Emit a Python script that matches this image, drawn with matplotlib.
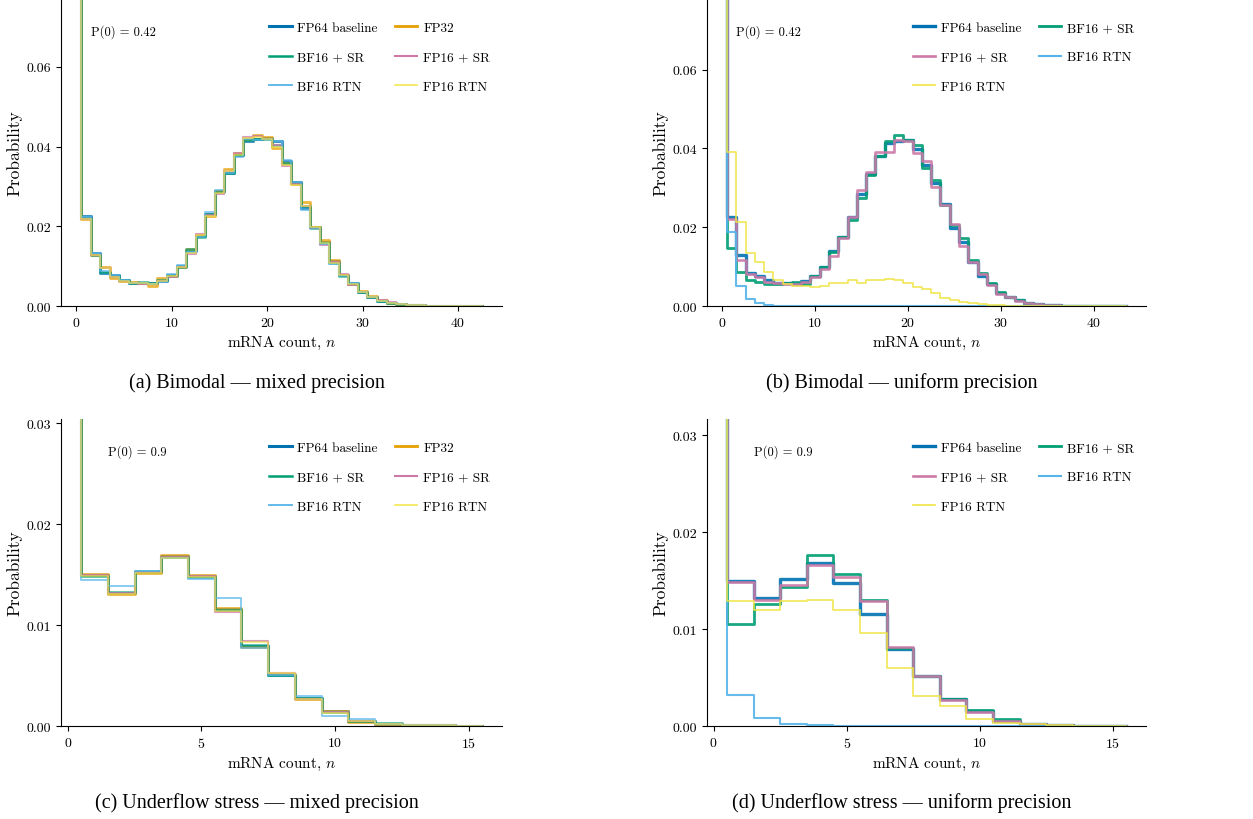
import numpy as np
import matplotlib.pyplot as plt
import matplotlib.transforms as mtransforms
from matplotlib.ticker import MultipleLocator

plt.rcParams['font.family'] = 'serif'
plt.rcParams['font.serif'] = ['cmr10']
plt.rcParams['mathtext.fontset'] = 'cm'
plt.rcParams['axes.formatter.use_mathtext'] = True
plt.rcParams['axes.unicode_minus'] = False

# ---- data: P(n) for n = 0, 1, 2, ... ----
# (a) bimodal, mixed precision (n = 0..42)
bim_mix_fp64 = [0.42, 0.0226, 0.0133, 0.0083, 0.0078, 0.0065, 0.0058, 0.0058, 0.0057, 0.0062,
                0.0078, 0.0100, 0.0137, 0.0175, 0.0232, 0.0289, 0.0334, 0.0378, 0.0415, 0.0418,
                0.0422, 0.0413, 0.0365, 0.0312, 0.0245, 0.0198, 0.0160, 0.0112, 0.0077, 0.0057,
                0.0035, 0.0023, 0.0013, 0.0008, 0.0005, 0.0003, 0.0002, 0.0001, 0.0001, 0.0001,
                0.0, 0.0, 0.0]
bim_mix_fp32 = [0.42, 0.0219, 0.0128, 0.0097, 0.0070, 0.0063, 0.0059, 0.0057, 0.0051, 0.0070,
                0.0076, 0.0098, 0.0142, 0.0178, 0.0226, 0.0288, 0.0344, 0.0383, 0.0420, 0.0428,
                0.0425, 0.0396, 0.0358, 0.0306, 0.0260, 0.0199, 0.0165, 0.0115, 0.0078, 0.0054,
                0.0037, 0.0025, 0.0014, 0.0008, 0.0005, 0.0003, 0.0002, 0.0001, 0.0001, 0.0,
                0.0, 0.0, 0.0]
bim_mix_bf16_sr = [0.42, 0.0222, 0.0129, 0.0086, 0.0075, 0.0064, 0.0058, 0.0059, 0.0058, 0.0065,
                   0.0075, 0.0098, 0.0142, 0.0174, 0.0230, 0.0285, 0.0333, 0.0380, 0.0417, 0.0420,
                   0.0420, 0.0405, 0.0360, 0.0308, 0.0250, 0.0196, 0.0158, 0.0108, 0.0076, 0.0055,
                   0.0034, 0.0022, 0.0012, 0.0007, 0.0005, 0.0003, 0.0002, 0.0001, 0.0001, 0.0001,
                   0.0, 0.0, 0.0]
bim_mix_fp16_sr = [0.42, 0.0218, 0.0127, 0.0095, 0.0072, 0.0062, 0.0058, 0.0056, 0.0054, 0.0063,
                   0.0074, 0.0097, 0.0130, 0.0180, 0.0228, 0.0280, 0.0340, 0.0383, 0.0423, 0.0426,
                   0.0418, 0.0403, 0.0352, 0.0305, 0.0250, 0.0195, 0.0153, 0.0110, 0.0080, 0.0053,
                   0.0035, 0.0022, 0.0015, 0.0009, 0.0006, 0.0003, 0.0002, 0.0001, 0.0001, 0.0,
                   0.0, 0.0, 0.0]
bim_mix_bf16_rtn = [0.42, 0.0224, 0.0134, 0.0087, 0.0079, 0.0066, 0.0057, 0.0058, 0.0056, 0.0060,
                    0.0080, 0.0103, 0.0135, 0.0173, 0.0235, 0.0290, 0.0333, 0.0375, 0.0418, 0.0417,
                    0.0420, 0.0413, 0.0366, 0.0312, 0.0242, 0.0195, 0.0155, 0.0105, 0.0075, 0.0058,
                    0.0036, 0.0022, 0.0012, 0.0007, 0.0005, 0.0003, 0.0002, 0.0001, 0.0001, 0.0001,
                    0.0, 0.0, 0.0]
bim_mix_fp16_rtn = [0.42, 0.0218, 0.0128, 0.0095, 0.0072, 0.0063, 0.0057, 0.0057, 0.0055, 0.0062,
                    0.0076, 0.0099, 0.0132, 0.0178, 0.0225, 0.0283, 0.0338, 0.0380, 0.0422, 0.0424,
                    0.0420, 0.0400, 0.0355, 0.0303, 0.0252, 0.0197, 0.0157, 0.0108, 0.0078, 0.0054,
                    0.0034, 0.0023, 0.0013, 0.0008, 0.0005, 0.0003, 0.0002, 0.0001, 0.0001, 0.0,
                    0.0, 0.0, 0.0]

# (b) bimodal, uniform precision (n = 0..43)
bim_uni_fp64 = [0.42, 0.0226, 0.0129, 0.0085, 0.0077, 0.0065, 0.0058, 0.0058, 0.0057, 0.0064,
                0.0076, 0.0100, 0.0140, 0.0175, 0.0225, 0.0285, 0.0334, 0.0380, 0.0415, 0.0420,
                0.0422, 0.0398, 0.0358, 0.0312, 0.0258, 0.0198, 0.0162, 0.0112, 0.0077, 0.0056,
                0.0034, 0.0023, 0.0014, 0.0008, 0.0005, 0.0003, 0.0002, 0.0001, 0.0001, 0.0001,
                0.0, 0.0, 0.0, 0.0]
bim_uni_bf16_sr = [0.42, 0.0146, 0.0086, 0.0065, 0.0060, 0.0055, 0.0055, 0.0059, 0.0060, 0.0056,
                   0.0075, 0.0098, 0.0138, 0.0175, 0.0218, 0.0273, 0.0333, 0.0380, 0.0418, 0.0433,
                   0.0422, 0.0408, 0.0350, 0.0320, 0.0256, 0.0205, 0.0173, 0.0116, 0.0084, 0.0058,
                   0.0035, 0.0024, 0.0015, 0.0008, 0.0005, 0.0003, 0.0002, 0.0001, 0.0001, 0.0001,
                   0.0, 0.0, 0.0, 0.0]
bim_uni_fp16_sr = [0.42, 0.0220, 0.0116, 0.0082, 0.0073, 0.0060, 0.0058, 0.0056, 0.0056, 0.0062,
                   0.0074, 0.0095, 0.0128, 0.0173, 0.0225, 0.0295, 0.0341, 0.0392, 0.0392, 0.0422,
                   0.0418, 0.0388, 0.0367, 0.0303, 0.0256, 0.0209, 0.0152, 0.0111, 0.0082, 0.0054,
                   0.0031, 0.0022, 0.0013, 0.0007, 0.0005, 0.0003, 0.0002, 0.0001, 0.0001, 0.0,
                   0.0, 0.0, 0.0, 0.0]
bim_uni_bf16_rtn = [0.97, 0.0188, 0.0050, 0.0018, 0.0008, 0.0003, 0.0001, 0.0001, 0.0, 0.0,
                    0.0, 0.0, 0.0, 0.0, 0.0, 0.0, 0.0, 0.0, 0.0, 0.0,
                    0.0, 0.0, 0.0, 0.0, 0.0, 0.0, 0.0, 0.0, 0.0, 0.0,
                    0.0, 0.0, 0.0, 0.0, 0.0, 0.0, 0.0, 0.0, 0.0, 0.0,
                    0.0, 0.0, 0.0, 0.0]
bim_uni_fp16_rtn = [0.80, 0.0390, 0.0212, 0.0135, 0.0111, 0.0086, 0.0066, 0.0056, 0.0052, 0.0050,
                    0.0049, 0.0052, 0.0059, 0.0058, 0.0066, 0.0059, 0.0065, 0.0067, 0.0069, 0.0065,
                    0.0058, 0.0048, 0.0042, 0.0032, 0.0020, 0.0016, 0.0009, 0.0008, 0.0005, 0.0003,
                    0.0002, 0.0001, 0.0001, 0.0, 0.0, 0.0, 0.0, 0.0, 0.0, 0.0,
                    0.0, 0.0, 0.0, 0.0]

# (c) underflow stress, mixed precision (n = 0..15)
und_mix_fp64 = [0.90, 0.0150, 0.0132, 0.0153, 0.0168, 0.0149, 0.0116, 0.0079, 0.0051, 0.0028,
                0.0015, 0.0005, 0.0002, 0.0001, 0.00005, 0.00003]
und_mix_fp32 = [0.90, 0.0151, 0.0131, 0.0152, 0.0169, 0.0150, 0.0117, 0.0078, 0.0052, 0.0027,
                0.0015, 0.0004, 0.0002, 0.0001, 0.00005, 0.00003]
und_mix_bf16_sr = [0.90, 0.0149, 0.0133, 0.0154, 0.0167, 0.0148, 0.0115, 0.0080, 0.0051, 0.0028,
                   0.0014, 0.0005, 0.0003, 0.0001, 0.00005, 0.00003]
und_mix_fp16_sr = [0.90, 0.0150, 0.0132, 0.0153, 0.0167, 0.0149, 0.0113, 0.0084, 0.0053, 0.0027,
                   0.0014, 0.0005, 0.0002, 0.0001, 0.00005, 0.00003]
und_mix_bf16_rtn = [0.90, 0.0145, 0.0139, 0.0154, 0.0166, 0.0146, 0.0127, 0.0077, 0.0051, 0.0030,
                    0.0010, 0.0007, 0.0002, 0.0001, 0.00005, 0.00003]
und_mix_fp16_rtn = [0.90, 0.0149, 0.0131, 0.0152, 0.0166, 0.0148, 0.0114, 0.0083, 0.0053, 0.0027,
                    0.0013, 0.0005, 0.0002, 0.0001, 0.00005, 0.00003]

# (d) underflow stress, uniform precision (n = 0..15)
und_uni_fp64 = [0.90, 0.0150, 0.0132, 0.0152, 0.0168, 0.0148, 0.0116, 0.0079, 0.0052, 0.0028,
                0.0015, 0.0005, 0.0002, 0.0001, 0.00005, 0.00003]
und_uni_bf16_sr = [0.90, 0.0105, 0.0126, 0.0143, 0.0176, 0.0157, 0.0130, 0.0080, 0.0052, 0.0028,
                   0.0016, 0.0007, 0.0002, 0.0001, 0.00005, 0.00003]
und_uni_fp16_sr = [0.90, 0.0149, 0.0130, 0.0146, 0.0166, 0.0154, 0.0129, 0.0082, 0.0052, 0.0027,
                   0.0014, 0.0005, 0.0002, 0.0001, 0.00005, 0.00003]
und_uni_bf16_rtn = [0.995, 0.0032, 0.0008, 0.0002, 0.0001, 0.00005, 0.0, 0.0, 0.0, 0.0,
                    0.0, 0.0, 0.0, 0.0, 0.0, 0.0]
und_uni_fp16_rtn = [0.92, 0.0129, 0.0120, 0.0129, 0.0130, 0.0120, 0.0096, 0.0060, 0.0031, 0.0021,
                    0.0007, 0.0003, 0.0002, 0.0001, 0.00005, 0.0]

mixed_labels = ["FP64 baseline", "FP32", "BF16 + SR", "FP16 + SR", "BF16 RTN", "FP16 RTN"]
uniform_labels = ["FP64 baseline", "BF16 + SR", "FP16 + SR", "BF16 RTN", "FP16 RTN"]

colors = {"FP64 baseline": "#0072B2", "FP32": "#E69F00", "BF16 + SR": "#009E73",
          "FP16 + SR": "#CC79A7", "BF16 RTN": "#56B4E9", "FP16 RTN": "#F0E442"}

panels = [
    ("(a) Bimodal — mixed precision", mixed_labels,
     [bim_mix_fp64, bim_mix_fp32, bim_mix_bf16_sr, bim_mix_fp16_sr, bim_mix_bf16_rtn, bim_mix_fp16_rtn]),
    ("(b) Bimodal — uniform precision", uniform_labels,
     [bim_uni_fp64, bim_uni_bf16_sr, bim_uni_fp16_sr, bim_uni_bf16_rtn, bim_uni_fp16_rtn]),
    ("(c) Underflow stress — mixed precision", mixed_labels,
     [und_mix_fp64, und_mix_fp32, und_mix_bf16_sr, und_mix_fp16_sr, und_mix_bf16_rtn, und_mix_fp16_rtn]),
    ("(d) Underflow stress — uniform precision", uniform_labels,
     [und_uni_fp64, und_uni_bf16_sr, und_uni_fp16_sr, und_uni_bf16_rtn, und_uni_fp16_rtn]),
]

W, H = 1253, 820
fig = plt.figure(figsize=(W / 100, H / 100), dpi=100)

# axes boxes in pixels: left, top, right, bottom
boxes = [(61, 0, 502, 307), (707, 0, 1146, 307),
         (61, 420, 502, 727), (707, 420, 1146, 727)]
caption_pos = [(257, 383), (902, 383), (257, 803), (902, 803)]

for (title, labels, series), box, cpos in zip(panels, boxes, caption_pos):
    l, t, r, b = box
    ax = fig.add_axes([l / W, 1 - b / H, (r - l) / W, (b - t) / H])
    mixed = len(labels) == 6
    widths = [2.2, 2.0, 1.8, 1.5, 1.3, 1.1] if mixed else [2.4, 2.0, 1.9, 1.5, 1.2]
    alpha = 0.75 if mixed else 0.9
    lines = []
    for lab, p, lw in zip(labels, series, widths):
        p = np.array(p)
        n = np.arange(len(p))
        ln, = ax.step(n + 0.5, p, where='pre', color=colors[lab], lw=lw, alpha=alpha, label=lab)
        lines.append(ln)

    ymax = 1.8 * max(max(p[1:]) for p in series)
    ax.set_ylim(0, ymax)
    if len(series[0]) > 20:
        ax.xaxis.set_major_locator(MultipleLocator(10))
        ax.yaxis.set_major_locator(MultipleLocator(0.02))
    else:
        ax.xaxis.set_major_locator(MultipleLocator(5))
        ax.yaxis.set_major_locator(MultipleLocator(0.01))
    ax.yaxis.set_major_formatter(plt.FormatStrFormatter('%.2f'))

    ax.spines['top'].set_visible(False)
    ax.spines['right'].set_visible(False)
    ax.tick_params(labelsize=10)
    ax.set_xlabel(r"mRNA count, $n$", fontsize=11)
    ax.set_ylabel("Probability", fontsize=12.5, labelpad=3)

    trans = mtransforms.blended_transform_factory(ax.transData, ax.transAxes)
    ax.text(1.5, 0.895, "P(0) = %g" % series[0][0], transform=trans,
            ha='left', va='center', fontsize=9)

    order = list(range(len(lines)))
    order = order[0::2] + order[1::2]
    leg = ax.legend([lines[i] for i in order], [labels[i] for i in order],
                    ncol=2, frameon=False, fontsize=9.5, loc='upper right',
                    bbox_to_anchor=(1.0, 0.965), handlelength=1.7, handletextpad=0.45,
                    columnspacing=1.3, labelspacing=1.3)
    for h in leg.get_lines():
        h.set_alpha(1)

    fig.text(cpos[0] / W, 1 - cpos[1] / H, title, ha='center', va='center',
             fontsize=14.5, family='Liberation Serif')

fig.savefig("out.png", dpi=100)
